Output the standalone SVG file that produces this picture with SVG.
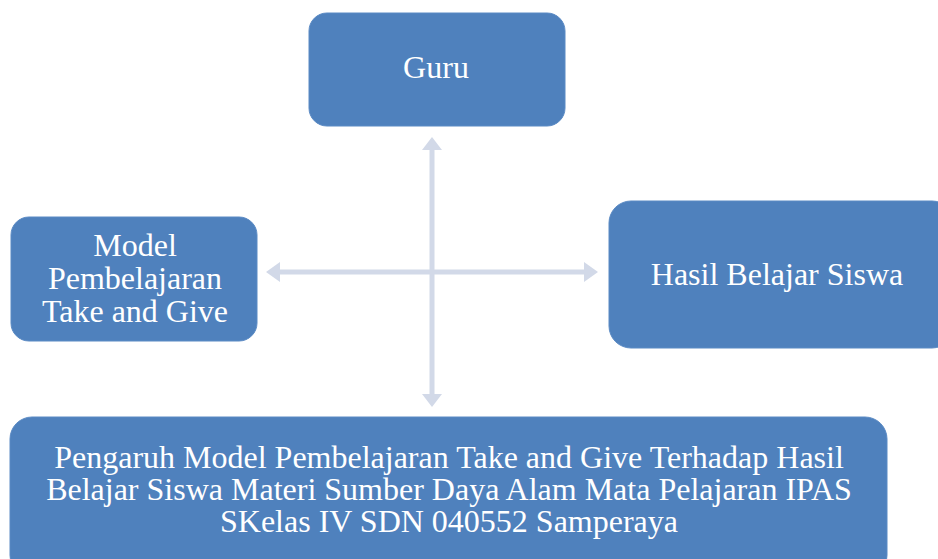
<svg xmlns="http://www.w3.org/2000/svg" width="938" height="559" viewBox="0 0 938 559">
<style>
.box{fill:#4f81bd;stroke:#5a8ac4;stroke-width:1}
.t{font-family:'Liberation Serif','Times New Roman',serif;font-size:32px;fill:#ffffff;text-anchor:middle}
.ln{stroke:#d2d9e8;stroke-width:5;fill:none}
.ah{fill:#d2d9e8}
</style>
<rect width="938" height="559" fill="#ffffff"/>
<g id="connectors">
<line class="ln" x1="432" y1="148" x2="432" y2="396"/>
<line class="ln" x1="279" y1="272" x2="585" y2="272"/>
<polygon class="ah" points="432,137 442,150 422,150"/>
<polygon class="ah" points="432,407 442,394 422,394"/>
<polygon class="ah" points="266,272 280,262 280,282"/>
<polygon class="ah" points="598,272 584,262 584,282"/>
</g>
<g id="guru">
<rect class="box" x="309" y="13" width="256" height="113" rx="18"/>
<text class="t" x="436" y="78">Guru</text>
</g>
<g id="model">
<rect class="box" x="11" y="217" width="246" height="124" rx="18"/>
<text class="t" x="135" y="256">Model</text>
<text class="t" x="135" y="289">Pembelajaran</text>
<text class="t" x="135" y="322">Take and Give</text>
</g>
<g id="hasil">
<rect class="box" x="609" y="201" width="345" height="147" rx="22"/>
<text class="t" x="777" y="285">Hasil Belajar Siswa</text>
</g>
<g id="pengaruh">
<rect class="box" x="10" y="417" width="877" height="160" rx="22"/>
<text class="t" x="449" y="468">Pengaruh Model Pembelajaran Take and Give Terhadap Hasil</text>
<text class="t" x="449" y="500">Belajar Siswa Materi Sumber Daya Alam Mata Pelajaran IPAS</text>
<text class="t" x="449" y="532">SKelas IV SDN 040552 Samperaya</text>
</g>
</svg>
